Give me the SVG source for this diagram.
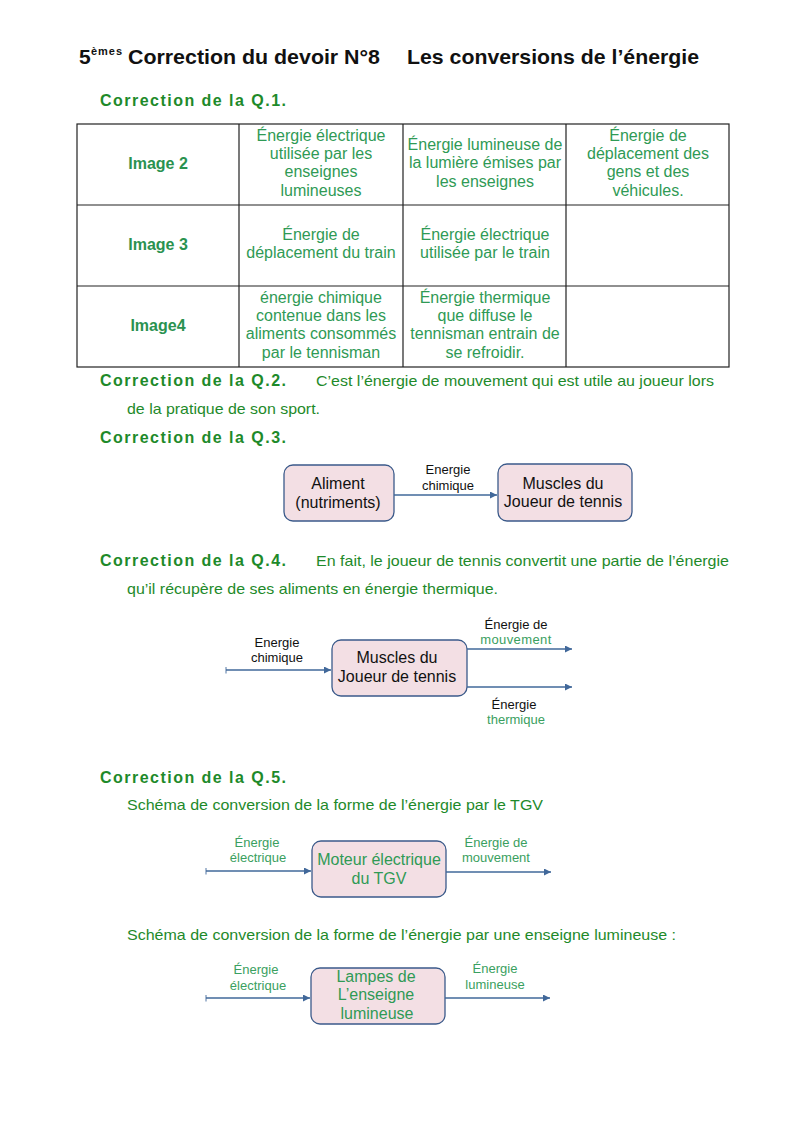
<svg xmlns="http://www.w3.org/2000/svg" width="794" height="1123" viewBox="0 0 794 1123">
<style>
text{font-family:"Liberation Sans",Arial,sans-serif}
.title{font-size:21px;font-weight:bold;fill:#111}
.sup{font-size:11px;font-weight:bold;fill:#111}
.hd{font-size:16px;font-weight:bold;fill:#1e8a2a}
.p{font-size:15px;fill:#1e8a2a}
.cell{font-size:16px;fill:#2f9a55;text-anchor:middle}
.rh{font-size:16px;font-weight:bold;fill:#2a9250;text-anchor:middle}
.grid{stroke:#222;stroke-width:1.2;fill:none}
.box{fill:#f3dfe4;stroke:#3b5a8a;stroke-width:1.3}
.bt{font-size:16px;fill:#111;text-anchor:middle}
.btg{font-size:16px;fill:#2f9a55;text-anchor:middle}
.lb{font-size:13px;fill:#111;text-anchor:middle}
.lbg{font-size:13px;fill:#3aa060;text-anchor:middle}
.cn{stroke:#41689a;stroke-width:1.3;fill:none}
</style>
<defs>
<marker id="ah" viewBox="0 0 10 10" refX="10" refY="5" markerWidth="9" markerHeight="7" markerUnits="userSpaceOnUse" orient="auto"><path d="M0,0L10,5L0,10z" fill="#41689a"/></marker>
<marker id="tk" viewBox="0 0 2 10" refX="1" refY="5" markerWidth="2" markerHeight="7" markerUnits="userSpaceOnUse" orient="auto"><path d="M1,0V10" stroke="#41689a" stroke-width="1.3"/></marker>
</defs>
<rect width="794" height="1123" fill="#fff"/>

<text class="title" x="79" y="64">5</text>
<text class="sup" x="91" y="55" textLength="31">èmes</text>
<text class="title" x="128" y="64" textLength="252" lengthAdjust="spacingAndGlyphs">Correction du devoir N°8</text>
<text class="title" x="407" y="64" textLength="292" lengthAdjust="spacingAndGlyphs">Les conversions de l’énergie</text>

<text class="hd" x="100" y="106" textLength="186">Correction de la Q.1.</text>

<g id="table">
<rect class="grid" x="77" y="124" width="652" height="243"/>
<path class="grid" d="M239,124V367M403,124V367M566,124V367M77,205H729M77,286H729"/>
<text class="rh" x="158" y="169">Image 2</text>
<text class="rh" x="158" y="250">Image 3</text>
<text class="rh" x="158" y="331">Image4</text>
<text class="cell"><tspan x="321" y="141">Énergie électrique</tspan><tspan x="321" y="159">utilisée par les</tspan><tspan x="321" y="177">enseignes</tspan><tspan x="321" y="196">lumineuses</tspan></text>
<text class="cell"><tspan x="485" y="150">Énergie lumineuse de</tspan><tspan x="485" y="168">la lumière émises par</tspan><tspan x="485" y="187">les enseignes</tspan></text>
<text class="cell"><tspan x="648" y="141">Énergie de</tspan><tspan x="648" y="159">déplacement des</tspan><tspan x="648" y="177">gens et des</tspan><tspan x="648" y="196">véhicules.</tspan></text>
<text class="cell"><tspan x="321" y="240">Énergie de</tspan><tspan x="321" y="258">déplacement du train</tspan></text>
<text class="cell"><tspan x="485" y="240">Énergie électrique</tspan><tspan x="485" y="258">utilisée par le train</tspan></text>
<text class="cell"><tspan x="321" y="303">énergie chimique</tspan><tspan x="321" y="321">contenue dans les</tspan><tspan x="321" y="339">aliments consommés</tspan><tspan x="321" y="358">par le tennisman</tspan></text>
<text class="cell"><tspan x="485" y="303">Énergie thermique</tspan><tspan x="485" y="321">que diffuse le</tspan><tspan x="485" y="339">tennisman entrain de</tspan><tspan x="485" y="358">se refroidir.</tspan></text>
</g>

<text class="hd" x="100" y="386" textLength="186">Correction de la Q.2.</text>
<text class="p" x="316" y="386" textLength="398" lengthAdjust="spacingAndGlyphs">C’est l’énergie de mouvement qui est utile au joueur lors</text>
<text class="p" x="127" y="414" textLength="193" lengthAdjust="spacingAndGlyphs">de la pratique de son sport.</text>

<text class="hd" x="100" y="443" textLength="186">Correction de la Q.3.</text>

<g id="q3-aliment"><rect class="box" x="284" y="465" width="110" height="56" rx="9"/><text class="bt"><tspan x="338" y="489">Aliment</tspan><tspan x="338" y="508">(nutriments)</tspan></text></g>
<g id="q3-muscles"><rect class="box" x="498" y="464" width="134" height="57" rx="9"/><text class="bt"><tspan x="563" y="489">Muscles du</tspan><tspan x="563" y="507">Joueur de tennis</tspan></text></g>

<text class="hd" x="100" y="566" textLength="186">Correction de la Q.4.</text>
<text class="p" x="316" y="566" textLength="413" lengthAdjust="spacingAndGlyphs">En fait, le joueur de tennis convertit une partie de l’énergie</text>
<text class="p" x="127" y="594" textLength="371" lengthAdjust="spacingAndGlyphs">qu’il récupère de ses aliments en énergie thermique.</text>

<g id="q4-muscles"><rect class="box" x="332" y="640" width="135" height="56" rx="9"/><text class="bt"><tspan x="397" y="663">Muscles du</tspan><tspan x="397" y="682">Joueur de tennis</tspan></text></g>

<text class="hd" x="100" y="783" textLength="186">Correction de la Q.5.</text>
<text class="p" x="127" y="810" textLength="416" lengthAdjust="spacingAndGlyphs">Schéma de conversion de la forme de l’énergie par le TGV</text>

<g id="q5-moteur"><rect class="box" x="312" y="841" width="134" height="56" rx="9"/><text class="btg"><tspan x="379" y="865">Moteur électrique</tspan><tspan x="379" y="884">du TGV</tspan></text></g>

<text class="p" x="127" y="940" textLength="549" lengthAdjust="spacingAndGlyphs">Schéma de conversion de la forme de l’énergie par une enseigne lumineuse :</text>

<g id="q5-lampes"><rect class="box" x="311" y="968" width="134" height="56" rx="9"/><text class="btg"><tspan x="376" y="982">Lampes de</tspan><tspan x="376" y="1000">L’enseigne</tspan><tspan x="377" y="1019">lumineuse</tspan></text></g>

<g id="connectors">
<path class="cn" d="M394,495H497" marker-end="url(#ah)"/>
<text class="lb"><tspan x="448" y="474">Energie</tspan><tspan x="448" y="490">chimique</tspan></text>

<path class="cn" d="M226,670H331" marker-start="url(#tk)" marker-end="url(#ah)"/>
<text class="lb"><tspan x="277" y="647">Energie</tspan><tspan x="277" y="662">chimique</tspan></text>
<path class="cn" d="M467,649H572" marker-end="url(#ah)"/>
<text class="lb" x="516" y="629">Énergie de</text><text class="lbg" x="516" y="644" letter-spacing="0.4">mouvement</text>
<path class="cn" d="M467,687H572" marker-end="url(#ah)"/>
<text class="lb" x="514" y="709">Énergie</text><text class="lbg" x="516" y="724">thermique</text>

<path class="cn" d="M206,871H311" marker-start="url(#tk)" marker-end="url(#ah)"/>
<text class="lbg"><tspan x="257" y="847">Énergie</tspan><tspan x="258" y="862">électrique</tspan></text>
<path class="cn" d="M446,872H551" marker-end="url(#ah)"/>
<text class="lbg"><tspan x="496" y="847">Énergie de</tspan><tspan x="496" y="862">mouvement</tspan></text>

<path class="cn" d="M206,998H310" marker-start="url(#tk)" marker-end="url(#ah)"/>
<text class="lbg"><tspan x="256" y="974">Énergie</tspan><tspan x="258" y="990">électrique</tspan></text>
<path class="cn" d="M445,998H550" marker-end="url(#ah)"/>
<text class="lbg"><tspan x="495" y="973">Énergie</tspan><tspan x="495" y="989">lumineuse</tspan></text>
</g>
</svg>
